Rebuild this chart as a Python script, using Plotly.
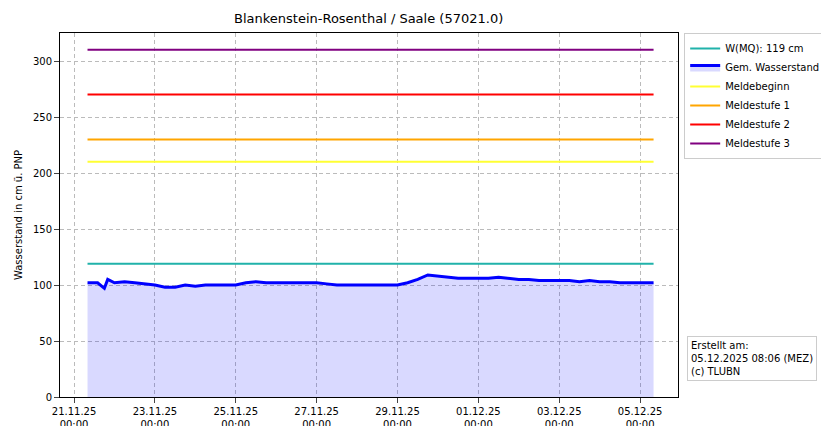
import plotly.graph_objects as go
import pandas as pd

title = "Blankenstein-Rosenthal / Saale (57021.0)"
start_times = ["2025-11-21 08:00", "2025-11-21 14:00", "2025-11-21 18:00", "2025-11-21 20:00"]
start_vals = [102, 102, 97, 105]
reg_times = list(pd.date_range("2025-11-22 00:00", "2025-12-05 06:00", freq="6h").strftime("%Y-%m-%d %H:%M"))
reg_vals = [102, 103, 102, 101,  100, 98, 98, 100,  99, 100, 100, 100,  100, 102, 103, 102,
            102, 102, 102, 102,  102, 101, 100, 100,  100, 100, 100, 100,  100, 102, 105, 109,
            108, 107, 106, 106,  106, 106, 107, 106,  105, 105, 104, 104,  104, 104, 103, 104,
            103, 103, 102, 102,  102, 102]
end_times = ["2025-12-05 08:00"]
end_vals = [102]
times = start_times + reg_times + end_times
levels = start_vals + reg_vals + end_vals

t0, t1 = times[0], times[-1]
ref_names = ["W(MQ): 119 cm", "Meldebeginn", "Meldestufe 1", "Meldestufe 2", "Meldestufe 3"]
ref_values = [119, 210, 230, 270, 310]
ref_colors = ["#20b2aa", "#ffff33", "orange", "red", "purple"]

tick_dates = pd.date_range("2025-11-21", "2025-12-05", freq="2D")
tick_text = [d.strftime("%d.%m.%y") + "<br>00:00" for d in tick_dates]

fig = go.Figure()
fig.add_trace(go.Scatter(x=[t0, t1], y=[ref_values[0]] * 2, mode="lines", name=ref_names[0],
                         line=dict(color=ref_colors[0], width=2)))
fig.add_trace(go.Scatter(x=times, y=levels, mode="lines", name="Gem. Wasserstand",
                         line=dict(color="blue", width=3), fill="tozeroy",
                         fillcolor="rgba(0,0,255,0.15)"))
for n, v, c in zip(ref_names[1:], ref_values[1:], ref_colors[1:]):
    fig.add_trace(go.Scatter(x=[t0, t1], y=[v, v], mode="lines", name=n, line=dict(color=c, width=2)))

fig.update_layout(
    width=829, height=426, margin=dict(l=52, r=159, t=25, b=37, autoexpand=False),
    plot_bgcolor="white", paper_bgcolor="white",
    font=dict(family="DejaVu Sans", size=11, color="black"),
    title=dict(text=title, x=0.435, xanchor="center", yref="container", y=0.985, yanchor="top",
               font=dict(size=13)),
    legend=dict(x=1.01, y=1, xanchor="left", yanchor="top", bordercolor="#cccccc", borderwidth=1,
                font=dict(size=10), tracegroupgap=0, itemwidth=30),
    showlegend=True,
)
fig.update_xaxes(range=["2025-11-20 15:40", "2025-12-05 22:30"], tickvals=list(tick_dates),
                 ticktext=tick_text, showgrid=True, gridcolor="#bbbbbb", griddash="4px,3px",
                 showline=True, linecolor="black", mirror=True, ticks="outside", tickfont=dict(size=10),
                 automargin=False)
fig.update_yaxes(range=[0, 325], dtick=50, title=dict(text="Wasserstand in cm ü. PNP", font=dict(size=10),
                 standoff=8),
                 showgrid=True, gridcolor="#bbbbbb", griddash="4px,3px", zeroline=False,
                 showline=True, linecolor="black", mirror=True, ticks="outside", tickfont=dict(size=10),
                 automargin=False)
fig.add_annotation(xref="paper", yref="paper", x=1.015, y=0.105, xanchor="left", yanchor="middle",
                   align="left", showarrow=False, bordercolor="#cccccc", borderwidth=1, borderpad=3,
                   text="Erstellt am:<br>05.12.2025 08:06 (MEZ)<br>(c) TLUBN", font=dict(size=10))
fig.write_html("out.html")
